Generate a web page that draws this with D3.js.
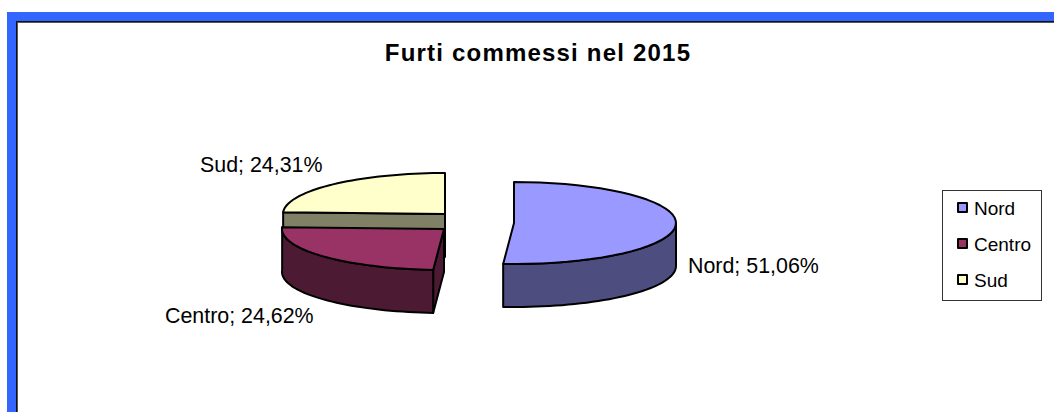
<!DOCTYPE html>
<html><head><meta charset="utf-8">
<script src="https://cdn.jsdelivr.net/npm/d3@7"></script>
<style>html,body{margin:0;padding:0;background:#fff;overflow:hidden}svg{display:block}text{font-family:"Liberation Sans",Arial,sans-serif;fill:#000}</style>
</head><body><svg id="c" width="1054" height="412"></svg>
<script>
const categories = ["Nord","Centro","Sud"];
const values = [51.06,24.62,24.31];
const labels = ["Nord; 51,06%","Centro; 24,62%","Sud; 24,31%"];
const tops = ["#9999FF","#993366","#FFFFCC"];
const walls = ["#4D4D80","#4D1A33","#808066"];
const centers = [[514,223],[444,229],[445,214]];
const labelPos = [[688,273],[165,323],[200,172]];
const title = "Furti commessi nel 2015";

const rx=162, ry=41, depth=43;
const svg=d3.select("#c");
svg.append("rect").attr("x",7).attr("y",12).attr("width",1047).attr("height",400).attr("fill","#3366FF");
svg.append("rect").attr("x",16).attr("y",21).attr("width",1038).attr("height",391).attr("fill","#555");
svg.append("rect").attr("x",16).attr("y",21).attr("width",1038).attr("height",1).attr("fill","#111");
svg.append("rect").attr("x",16).attr("y",21).attr("width",1).attr("height",391).attr("fill","#111");
svg.append("rect").attr("x",18).attr("y",23).attr("width",1036).attr("height",389).attr("fill","#fff");

svg.append("text").attr("x",538).attr("y",61).attr("text-anchor","middle")
  .attr("font-size",24).attr("font-weight","bold").attr("letter-spacing","1.2px").text(title);

const arcs=d3.pie().sort(null)(values);
const line=d3.line();
const angle=d3.scaleLinear().domain([0,1]);
function rim(c,a0,a1,dy){
  angle.range([a0,a1]);
  return d3.range(0,1.0001,1/40).map(t=>{
    const a=angle(t);
    return [c[0]+rx*Math.sin(a), c[1]-ry*Math.cos(a)+dy];
  });
}
const stroke=o=>o.attr("stroke","#000").attr("stroke-width",2).attr("stroke-linejoin","round");
function poly(pts,fill){ stroke(svg.append("path").attr("d",line(pts)+"Z").attr("fill",fill)); }

// Sud, then Centro, then Nord: back to front
[2,1,0].forEach(i=>{
  const a=arcs[i], c=centers[i];
  const top=rim(c,a.startAngle,a.endAngle,0);
  const below=[c[0],c[1]+depth];
  if(i===2){
    // cut face towards the viewer
    poly([top[0],[top[0][0],top[0][1]+depth],below,c],walls[i]);
  }
  if(i===1){
    // cut face on the right of the slice
    const s=top[0];
    poly([c,s,[s[0],s[1]+depth],below],walls[i]);
    // outer wall
    const lower=rim(c,a.startAngle,a.endAngle,depth).reverse();
    poly(top.concat(lower),walls[i]);
  }
  if(i===0){
    // outer wall: visible part only, from the right extreme to the end of the slice
    const w0=rim(c,Math.PI/2,a.endAngle,0);
    const w1=rim(c,Math.PI/2,a.endAngle,depth).reverse();
    poly(w0.concat(w1),walls[i]);
  }
  poly([c].concat(top),tops[i]);
});

labels.forEach((t,i)=>svg.append("text").attr("x",labelPos[i][0]).attr("y",labelPos[i][1]).attr("font-size",21.4).text(t));

svg.append("rect").attr("x",942.5).attr("y",190.5).attr("width",99).attr("height",110).attr("fill","#fff").attr("stroke","#333").attr("stroke-width",1);
const ly=d3.scalePoint().domain(categories).range([208,280]);
categories.forEach((n,i)=>{
  stroke(svg.append("rect").attr("x",958).attr("y",ly(n)-5).attr("width",9).attr("height",9).attr("fill",tops[i]));
  svg.append("text").attr("x",974).attr("y",ly(n)+7).attr("font-size",19).text(n);
});
</script></body></html>
